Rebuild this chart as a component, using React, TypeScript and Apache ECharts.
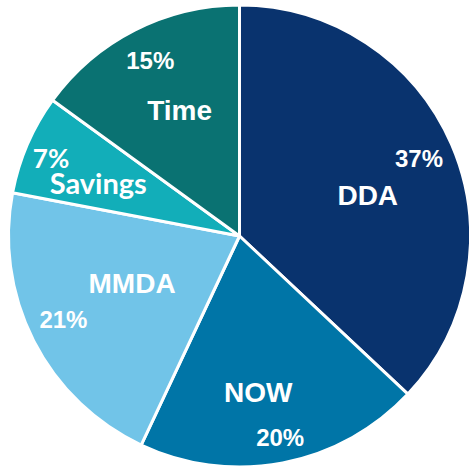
import React, { useEffect, useRef } from "react";
import * as echarts from "echarts";

const categories = ["DDA", "NOW", "MMDA", "Savings", "Time"];
const shares = [37, 20, 21, 7, 15];
const colors = ["#09336E", "#0075A7", "#71C4E8", "#12AEB9", "#0A7272"];
// small per-label nudges (style only)
const nameNudge = [[-3, 16], [-8, 16], [20, -17], [-10, 3], [5, 2]];
const pctNudge = [[-5, 2], [3, 4], [3, -8], [-4, 2], [2, 4]];

const CENTER = [239.5, 236];
const R = 231;

export default function App() {
  const ref = useRef<HTMLDivElement>(null);
  useEffect(() => {
    if (!ref.current) return;
    const chart = echarts.init(ref.current, null, { renderer: "svg" });
    const base = shares.map((v, i) => ({ name: categories[i], value: v }));
    const isSav = (i: number) => categories[i] === "Savings";
    chart.setOption({
      animation: false,
      series: [
        {
          type: "pie",
          center: CENTER,
          radius: [0, R],
          startAngle: 90,
          clockwise: true,
          silent: true,
          label: { show: false },
          labelLine: { show: false },
          itemStyle: { borderColor: "#ffffff", borderWidth: 3 },
          data: base.map((d, i) => ({ ...d, itemStyle: { color: colors[i] } })),
        },
        {
          type: "pie",
          center: CENTER,
          radius: [100, 180],
          startAngle: 90,
          clockwise: true,
          silent: true,
          avoidLabelOverlap: false,
          itemStyle: { color: "rgba(0,0,0,0)", borderWidth: 0 },
          labelLine: { show: false },
          label: {
            show: true,
            position: "inside",
            formatter: "{b}",
            color: "#ffffff",
            fontWeight: "bold",
            fontSize: 28,
            lineHeight: 24,
            fontFamily: "Liberation Sans",
          },
          labelLayout: (p: any) => ({ dx: nameNudge[p.dataIndex][0], dy: nameNudge[p.dataIndex][1] }),
          data: base.map((d, i) => ({
            ...d,
            label: isSav(i) ? { fontFamily: "Lato", fontSize: 29, lineHeight: 22 } : {},
          })),
        },
        {
          type: "pie",
          center: CENTER,
          radius: [168, 228],
          startAngle: 90,
          clockwise: true,
          silent: true,
          avoidLabelOverlap: false,
          itemStyle: { color: "rgba(0,0,0,0)", borderWidth: 0 },
          labelLine: { show: false },
          label: {
            show: true,
            position: "inside",
            formatter: (p: any) => `${shares[p.dataIndex]}%`,
            color: "#ffffff",
            fontWeight: "bold",
            fontSize: 24,
            lineHeight: 20,
            fontFamily: "Liberation Sans",
          },
          labelLayout: (p: any) => ({ dx: pctNudge[p.dataIndex][0], dy: pctNudge[p.dataIndex][1] }),
          data: base.map((d, i) => ({
            ...d,
            label: isSav(i) ? { fontFamily: "Lato", fontSize: 26, lineHeight: 18 } : {},
          })),
        },
      ],
    });
    return () => chart.dispose();
  }, []);
  return (
    <div
      ref={ref}
      style={{ position: "fixed", left: 0, top: 0, width: 469, height: 468, background: "#ffffff" }}
    />
  );
}
